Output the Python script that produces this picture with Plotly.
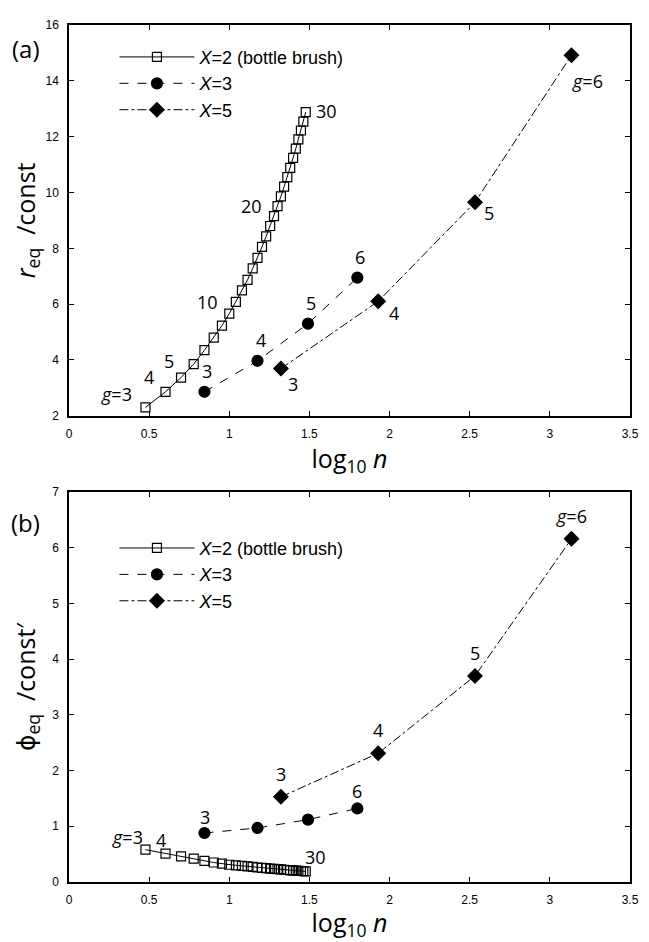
import plotly.graph_objects as go

# ---------------- data ----------------
# X = 2 (bottle brush), g = 3..30
g_x2 = list(range(3, 31))
logn_x2 = [0.477, 0.602, 0.699, 0.778, 0.845, 0.903, 0.954, 1.000, 1.041, 1.079,
           1.114, 1.146, 1.176, 1.204, 1.230, 1.255, 1.279, 1.301, 1.322, 1.342,
           1.362, 1.380, 1.398, 1.415, 1.431, 1.447, 1.462, 1.477]
req_x2 = [2.30, 2.86, 3.37, 3.85, 4.35, 4.80, 5.23, 5.66, 6.08, 6.49,
          6.87, 7.28, 7.66, 8.05, 8.43, 8.80, 9.15, 9.51, 9.86, 10.21,
          10.55, 10.88, 11.24, 11.57, 11.90, 12.22, 12.54, 12.88]
phi_x2 = [0.58, 0.51, 0.46, 0.42, 0.38, 0.35, 0.33, 0.31, 0.30, 0.29,
          0.28, 0.27, 0.26, 0.255, 0.25, 0.24, 0.235, 0.23, 0.225, 0.22,
          0.215, 0.21, 0.207, 0.203, 0.20, 0.197, 0.193, 0.19]

# X = 3, g = 3..6
g_x3 = [3, 4, 5, 6]
logn_x3 = [0.845, 1.176, 1.491, 1.799]
req_x3 = [2.86, 3.97, 5.30, 6.95]
phi_x3 = [0.88, 0.97, 1.12, 1.32]

# X = 5, g = 3..6
g_x5 = [3, 4, 5, 6]
logn_x5 = [1.322, 1.929, 2.533, 3.135]
req_x5 = [3.69, 6.10, 9.65, 14.92]
phi_x5 = [1.53, 2.31, 3.70, 6.16]

x_ticks = [0, 0.5, 1, 1.5, 2, 2.5, 3, 3.5]
x_ticklabels = ["0", "0.5", "1", "1.5", "2", "2.5", "3", "3.5"]
y1_ticks = [2, 4, 6, 8, 10, 12, 14, 16]
y2_ticks = [0, 1, 2, 3, 4, 5, 6, 7]

series_names = ["<i>X</i>=2 (bottle brush)", "<i>X</i>=3", "<i>X</i>=5"]

# ---------------- figure ----------------
fig = go.Figure()

line_styles = ["solid", "dash", "dashdot"]
marker_syms = ["square-open", "circle", "diamond"]
marker_sizes = [9, 11, 11]

panels = [
    (("x", "y"), "legend", [(logn_x2, req_x2), (logn_x3, req_x3), (logn_x5, req_x5)]),
    (("x2", "y2"), "legend2", [(logn_x2, phi_x2), (logn_x3, phi_x3), (logn_x5, phi_x5)]),
]
for (xa, ya), leg, sets in panels:
    for i, (xs, ys) in enumerate(sets):
        fig.add_trace(go.Scatter(
            x=xs, y=ys, xaxis=xa, yaxis=ya, mode="lines+markers",
            name=series_names[i], legend=leg,
            line=dict(color="black", width=1, dash=line_styles[i]),
            marker=dict(symbol=marker_syms[i], size=marker_sizes[i], color="black",
                        line=dict(color="black", width=1.2)),
        ))

# ---------------- point labels ----------------
lab_font = dict(family="Open Sans, DejaVu Sans, sans-serif", size=18, color="black")
ann = []

def label(xs, ys, gs, g, text, dx, dy, xref, yref):
    k = gs.index(g)
    ann.append(dict(x=xs[k], y=ys[k], xref=xref, yref=yref, text=text, showarrow=False,
                    xanchor="center", yanchor="middle",
                    xshift=dx, yshift=dy, font=lab_font))

# panel (a)
label(logn_x2, req_x2, g_x2, 3, "<i>g</i>=3", -29, 13, "x", "y")
label(logn_x2, req_x2, g_x2, 4, "4", -16, 15, "x", "y")
label(logn_x2, req_x2, g_x2, 5, "5", -12, 17, "x", "y")
label(logn_x2, req_x2, g_x2, 10, "10", -22, 12, "x", "y")
label(logn_x2, req_x2, g_x2, 20, "20", -26, 0, "x", "y")
label(logn_x2, req_x2, g_x2, 30, "30", 21, 1, "x", "y")
for g in g_x3:
    label(logn_x3, req_x3, g_x3, g, str(g), 3, 21, "x", "y")
label(logn_x5, req_x5, g_x5, 3, "3", 12, -15, "x", "y")
label(logn_x5, req_x5, g_x5, 4, "4", 16, -12, "x", "y")
label(logn_x5, req_x5, g_x5, 5, "5", 14, -11, "x", "y")
label(logn_x5, req_x5, g_x5, 6, "<i>g</i>=6", 16, -26, "x", "y")

# panel (b)
label(logn_x2, phi_x2, g_x2, 3, "<i>g</i>=3", -18, 13, "x2", "y2")
label(logn_x2, phi_x2, g_x2, 4, "4", -4, 14, "x2", "y2")
label(logn_x2, phi_x2, g_x2, 30, "30", 10, 14, "x2", "y2")
label(logn_x3, phi_x3, g_x3, 3, "3", 1, 16, "x2", "y2")
label(logn_x3, phi_x3, g_x3, 6, "6", 0, 17, "x2", "y2")
for g in g_x5:
    label(logn_x5, phi_x5, g_x5, g, "<i>g</i>=6" if g == 6 else str(g), 0, 23, "x2", "y2")

# panel letters
panel_font = dict(family="Open Sans, DejaVu Sans, sans-serif", size=24, color="black")
ann.append(dict(x=-0.077, y=0.972, xref="paper", yref="paper", text="(a)", showarrow=False,
                xanchor="center", yanchor="middle", font=panel_font))
ann.append(dict(x=-0.077, y=0.419, xref="paper", yref="paper", text="(b)", showarrow=False,
                xanchor="center", yanchor="middle", font=panel_font))

tick_font = dict(family="Liberation Sans, Arial, sans-serif", size=12, color="black")
title_font = dict(family="Open Sans, DejaVu Sans, sans-serif", size=25, color="black")

axis_common = dict(showline=True, linecolor="black", linewidth=1.5, mirror="ticks",
                   ticks="inside", ticklen=5, tickcolor="black", showgrid=False,
                   zeroline=False, tickfont=tick_font, title_font=title_font,
                   ticklabelstandoff=6)

leg_font = dict(family="Liberation Sans, Arial, sans-serif", size=18, color="black")

fig.update_layout(
    width=641, height=934,
    paper_bgcolor="white", plot_bgcolor="white",
    margin=dict(l=61, r=10, t=10, b=60),
    annotations=ann,
    xaxis=dict(domain=[0, 1], anchor="y", range=[0, 3.5], tickvals=x_ticks,
               ticktext=x_ticklabels, title=dict(text="log<sub>10</sub> <i>n</i>", standoff=0),
               **axis_common),
    yaxis=dict(domain=[0.544, 1], anchor="x", range=[2, 16], tickvals=y1_ticks,
               title=dict(text="<i>r</i><sub>eq</sub>  /const", standoff=10), **axis_common),
    xaxis2=dict(domain=[0, 1], anchor="y2", range=[0, 3.5], tickvals=x_ticks,
                ticktext=x_ticklabels, title=dict(text="log<sub>10</sub> <i>n</i>", standoff=0),
                **axis_common),
    yaxis2=dict(domain=[0, 0.455], anchor="x2", range=[0, 7], tickvals=y2_ticks,
                title=dict(text="ϕ<sub>eq</sub>  /const′", standoff=10), **axis_common),
    legend=dict(x=0.081, y=0.984, xanchor="left", yanchor="top", bgcolor="rgba(0,0,0,0)",
                font=leg_font, itemwidth=75, tracegroupgap=0),
    legend2=dict(x=0.081, y=0.411, xanchor="left", yanchor="top", bgcolor="rgba(0,0,0,0)",
                 font=leg_font, itemwidth=75, tracegroupgap=0),
    showlegend=True,
)

fig.write_html("out.html")
